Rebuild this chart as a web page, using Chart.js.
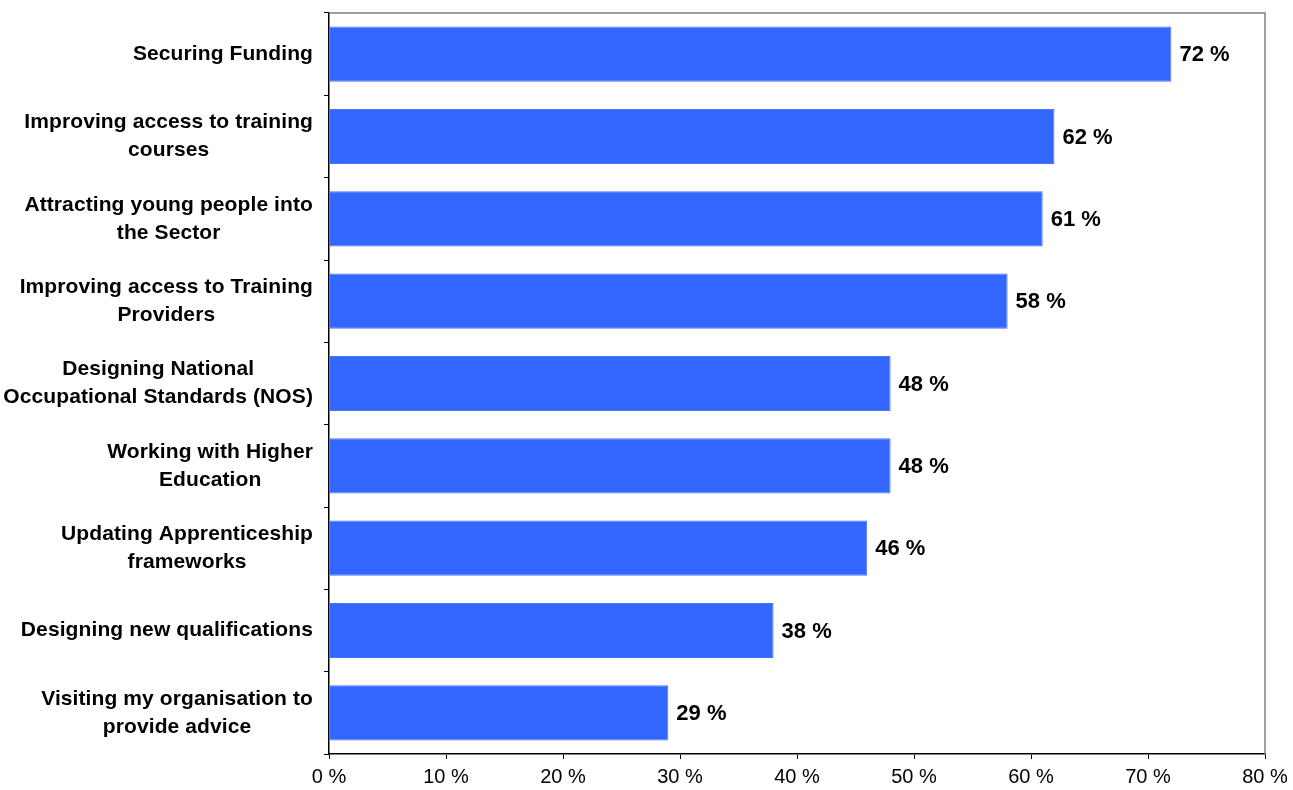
<!DOCTYPE html>
<html lang="en">
<head>
<meta charset="UTF-8">
<meta name="viewport" content="width=device-width, initial-scale=1.0">
<title>Support Priorities</title>
<script src="https://cdn.jsdelivr.net/npm/chart.js"></script>
<style>
    html, body {
        margin: 0;
        padding: 0;
        background: #ffffff;
    }

    .chart-container {
        position: relative;
        width: 1293px;
        height: 790px;
    }
</style>
</head>
<body>
<div class="chart-container">
    <canvas id="prioritiesChart"></canvas>
</div>

<script>
    // Categories (one entry per line of the axis label)
    const categories = [
        ['Securing Funding'],
        ['Improving access to training', 'courses'],
        ['Attracting young people into', 'the Sector'],
        ['Improving access to Training', 'Providers'],
        ['Designing National', 'Occupational Standards (NOS)'],
        ['Working with Higher', 'Education'],
        ['Updating Apprenticeship', 'frameworks'],
        ['Designing new qualifications'],
        ['Visiting my organisation to', 'provide advice']
    ];
    const percentages = [72, 62, 61, 58, 48, 48, 46, 38, 29];
    const xTickValues = [0, 10, 20, 30, 40, 50, 60, 70, 80];

    const FONT = '"Liberation Sans", Arial, Helvetica, sans-serif';

    // Category labels: right-aligned block, lines centred on each other
    const categoryLabels = {
        id: 'categoryLabels',
        afterDraw(chart) {
            const { ctx, scales: { y } } = chart;
            const lineHeight = 28;
            const rightEdge = y.right - 16;
            ctx.save();
            ctx.font = 'bold 21px ' + FONT;
            ctx.letterSpacing = '0.1px';
            ctx.fillStyle = '#000';
            ctx.textAlign = 'center';
            ctx.textBaseline = 'middle';
            categories.forEach((lines, i) => {
                const widest = Math.max(...lines.map(l => ctx.measureText(l).width));
                const cx = rightEdge - widest / 2;
                const cy = y.getPixelForValue(i);
                const y0 = cy - (lines.length - 1) * lineHeight / 2;
                lines.forEach((line, j) => ctx.fillText(line, cx, y0 + j * lineHeight));
            });
            ctx.restore();
        }
    };

    // Value labels at the end of each bar
    const valueLabels = {
        id: 'valueLabels',
        afterDatasetsDraw(chart) {
            const { ctx } = chart;
            const meta = chart.getDatasetMeta(0);
            ctx.save();
            ctx.font = 'bold 22px ' + FONT;
            ctx.fillStyle = '#000';
            ctx.textAlign = 'left';
            ctx.textBaseline = 'middle';
            meta.data.forEach((bar, i) => {
                ctx.fillText(percentages[i] + ' %', bar.x + 8, bar.y + 1);
            });
            ctx.restore();
        }
    };

    // Grey frame on the top and right of the plot area
    const plotFrame = {
        id: 'plotFrame',
        afterDraw(chart) {
            const { ctx, chartArea: { left, top, right, bottom } } = chart;
            ctx.save();
            ctx.strokeStyle = '#808080';
            ctx.lineWidth = 1.5;
            ctx.beginPath();
            ctx.moveTo(left, top);
            ctx.lineTo(right, top);
            ctx.lineTo(right, bottom);
            ctx.stroke();
            ctx.restore();
        }
    };

    const ctx = document.getElementById('prioritiesChart').getContext('2d');
    new Chart(ctx, {
        type: 'bar',
        data: {
            labels: categories,
            datasets: [{
                data: percentages,
                backgroundColor: '#3366FF',
                borderColor: '#4a76ff',
                borderWidth: 1,
                barPercentage: 0.67,
                categoryPercentage: 1
            }]
        },
        options: {
            indexAxis: 'y',
            responsive: true,
            maintainAspectRatio: false,
            animation: false,
            layout: {
                padding: { top: 13, right: 28, left: 0, bottom: 0 }
            },
            plugins: {
                legend: { display: false },
                tooltip: { enabled: false }
            },
            scales: {
                x: {
                    min: 0,
                    max: 80,
                    afterBuildTicks(scale) {
                        scale.ticks = xTickValues.map(v => ({ value: v }));
                    },
                    grid: { drawOnChartArea: false, tickLength: 5, color: '#000' },
                    border: { color: '#000', width: 1.5 },
                    ticks: {
                        color: '#000',
                        padding: 6,
                        maxRotation: 0,
                        font: { family: FONT, size: 20 },
                        callback: v => v + ' %'
                    },
                    afterFit(scale) {
                        scale.height = 36;
                        scale.paddingLeft = 0;
                        scale.paddingRight = 0;
                    }
                },
                y: {
                    grid: { offset: true, drawOnChartArea: false, tickLength: 5, color: '#000' },
                    border: { color: '#000', width: 1.5 },
                    ticks: { display: false },
                    afterFit(scale) {
                        scale.width = 329;
                        scale.paddingTop = 0;
                        scale.paddingBottom = 0;
                    }
                }
            }
        },
        plugins: [categoryLabels, valueLabels, plotFrame]
    });
</script>
</body>
</html>
